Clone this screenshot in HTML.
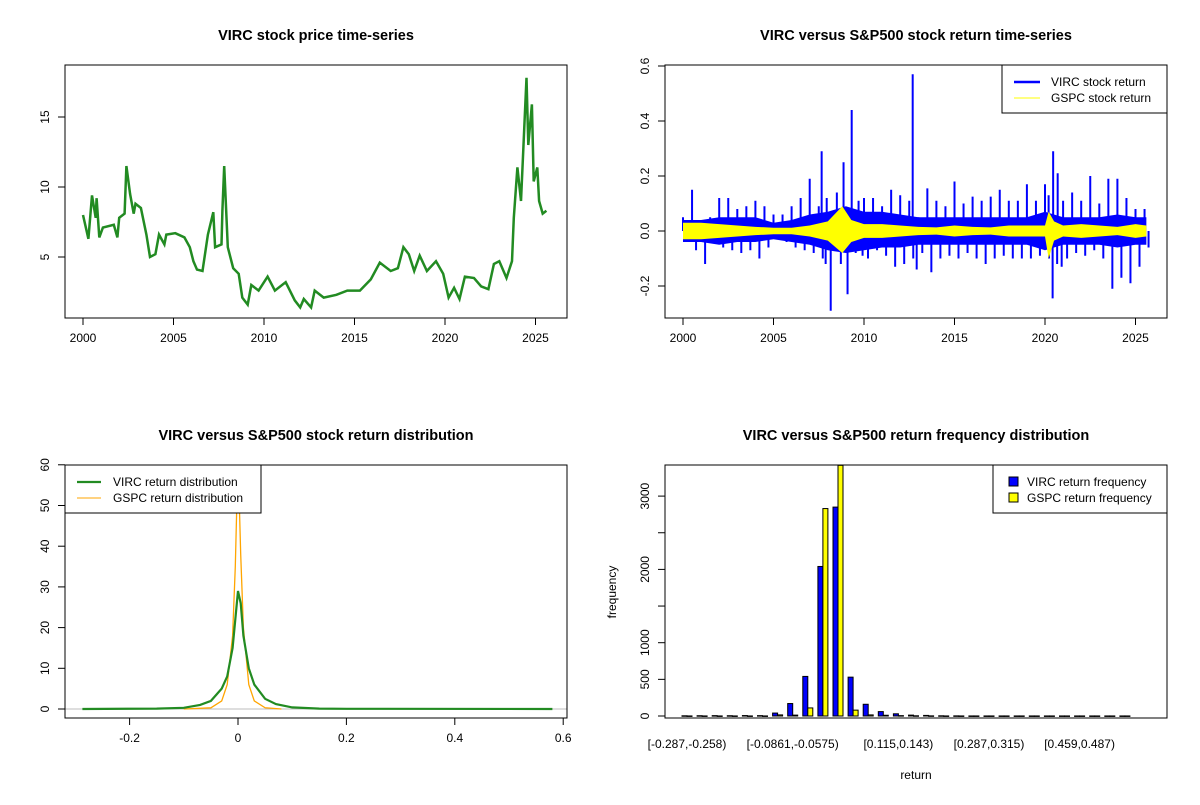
<!DOCTYPE html>
<html><head><meta charset="utf-8"><style>
body{margin:0;background:#fff}
svg{font-family:"Liberation Sans",Arial,sans-serif}
</style></head><body>
<svg id="c" width="1200" height="800" viewBox="0 0 1200 800" xmlns="http://www.w3.org/2000/svg"></svg>
<script>
// ---- Data ----
const priceYears=[2000.0,2000.3,2000.5,2000.7,2000.75,2000.9,2001.1,2001.7,2001.9,2002.0,2002.3,2002.4,2002.6,2002.8,2002.9,2003.2,2003.5,2003.7,2004.0,2004.2,2004.5,2004.6,2005.1,2005.6,2005.9,2006.1,2006.3,2006.6,2006.9,2007.2,2007.3,2007.65,2007.7,2007.8,2008.0,2008.3,2008.6,2008.8,2009.1,2009.3,2009.7,2010.2,2010.6,2011.2,2011.7,2012.0,2012.2,2012.6,2012.8,2013.3,2014.0,2014.6,2015.3,2015.9,2016.4,2017.0,2017.4,2017.7,2018.0,2018.3,2018.6,2019.0,2019.5,2019.9,2020.2,2020.5,2020.8,2021.1,2021.6,2022.0,2022.4,2022.7,2023.0,2023.4,2023.7,2023.8,2024.0,2024.2,2024.5,2024.6,2024.8,2024.9,2025.1,2025.2,2025.4,2025.6];
const priceVals=[8.0,6.3,9.4,7.8,9.2,6.4,7.1,7.3,6.4,7.8,8.1,11.5,9.5,8.1,8.8,8.5,6.6,5.0,5.2,6.6,5.9,6.6,6.7,6.4,5.7,4.7,4.1,4.0,6.6,8.2,5.7,5.9,8.3,11.5,5.7,4.2,3.8,2.1,1.6,3.0,2.6,3.6,2.6,3.2,1.9,1.4,2.0,1.4,2.6,2.1,2.3,2.6,2.6,3.4,4.6,4.0,4.2,5.7,5.2,4.0,5.1,4.0,4.7,3.8,2.1,2.8,2.0,3.6,3.5,2.9,2.7,4.5,4.7,3.5,4.7,7.8,11.4,9.0,17.8,13.0,15.9,10.4,11.4,9.0,8.1,8.3];

const retYears=[2000.0,2000.5,2001.0,2001.5,2002.0,2002.5,2003.0,2003.5,2004.0,2004.5,2005.0,2005.5,2006.0,2006.5,2007.0,2007.5,2007.66,2007.94,2008.5,2008.87,2009.32,2009.7,2010.0,2010.5,2011.0,2011.5,2012.0,2012.5,2012.69,2013.0,2013.5,2014.0,2014.5,2015.0,2015.5,2016.0,2016.5,2017.0,2017.5,2018.0,2018.5,2019.0,2019.5,2020.0,2020.2,2020.45,2020.7,2021.0,2021.5,2022.0,2022.5,2023.0,2023.5,2024.0,2024.5,2025.0,2025.5];
const retHigh=[0.05,0.15,0.04,0.05,0.12,0.12,0.08,0.09,0.11,0.09,0.06,0.06,0.09,0.12,0.19,0.09,0.29,0.12,0.14,0.25,0.44,0.11,0.12,0.12,0.09,0.15,0.13,0.11,0.57,0.05,0.155,0.11,0.09,0.18,0.10,0.125,0.11,0.125,0.15,0.11,0.11,0.17,0.11,0.17,0.13,0.29,0.21,0.11,0.14,0.11,0.2,0.10,0.19,0.19,0.12,0.08,0.08];
const retLow=[-0.04,-0.07,-0.12,-0.03,-0.06,-0.07,-0.08,-0.07,-0.1,-0.06,-0.03,-0.04,-0.06,-0.07,-0.08,-0.1,-0.12,-0.29,-0.12,-0.23,-0.08,-0.09,-0.1,-0.07,-0.09,-0.13,-0.12,-0.1,-0.14,-0.08,-0.15,-0.1,-0.09,-0.1,-0.08,-0.1,-0.12,-0.1,-0.09,-0.1,-0.1,-0.1,-0.09,-0.1,-0.245,-0.12,-0.13,-0.1,-0.08,-0.09,-0.07,-0.1,-0.21,-0.17,-0.19,-0.13,-0.06];
const bandYears=[2000,2001,2002,2003,2004,2005,2006,2007,2008,2009,2010,2011,2012,2013,2014,2015,2016,2017,2018,2019,2020,2021,2022,2023,2024,2025,2025.6];
const bandHi=[0.04,0.04,0.05,0.05,0.05,0.03,0.04,0.06,0.07,0.09,0.07,0.07,0.06,0.05,0.05,0.05,0.05,0.05,0.05,0.05,0.07,0.05,0.05,0.05,0.06,0.05,0.05];
const bandLo=[-0.04,-0.04,-0.05,-0.04,-0.04,-0.03,-0.04,-0.05,-0.07,-0.08,-0.07,-0.06,-0.06,-0.05,-0.05,-0.05,-0.05,-0.05,-0.05,-0.05,-0.07,-0.05,-0.05,-0.05,-0.06,-0.05,-0.05];
const gspcYears=[2000,2001,2002,2003,2004,2005,2006,2007,2008,2008.8,2009.3,2010,2011,2012,2013,2014,2015,2016,2017,2018,2019,2020,2020.2,2020.5,2021,2022,2023,2024,2025,2025.6];
const gspcHi=[0.03,0.03,0.025,0.02,0.015,0.012,0.012,0.02,0.035,0.09,0.04,0.025,0.025,0.02,0.015,0.013,0.02,0.015,0.013,0.02,0.02,0.02,0.07,0.035,0.02,0.025,0.02,0.015,0.025,0.02];
const gspcLo=[-0.03,-0.03,-0.025,-0.02,-0.015,-0.012,-0.012,-0.02,-0.035,-0.08,-0.04,-0.025,-0.025,-0.02,-0.015,-0.013,-0.02,-0.015,-0.013,-0.02,-0.02,-0.02,-0.1,-0.035,-0.02,-0.025,-0.02,-0.015,-0.025,-0.02];

const densX=[-0.287,-0.15,-0.1,-0.07,-0.05,-0.03,-0.02,-0.01,-0.005,0,0.005,0.01,0.02,0.03,0.05,0.07,0.1,0.15,0.2,0.58];
const vircDens=[0,0.1,0.3,1,2,5,8,15,22,29,26,18,10,6,2.5,1.2,0.4,0.1,0.05,0];
const gspcDensX=[-0.1,-0.05,-0.03,-0.02,-0.01,-0.005,0,0.005,0.01,0.02,0.03,0.05,0.08];
const gspcDens=[0,0.3,2,6,18,35,62,38,20,6,2,0.3,0];

const binLabels=["[-0.287,-0.258)","[-0.0861,-0.0575)","[0.115,0.143)","[0.287,0.315)","[0.459,0.487)"];
const binLabelIdx=[0,7,14,20,26];
const vircFreq=[3,4,5,4,6,5,40,170,540,2040,2850,530,160,60,30,12,8,3,2,1,1,1,1,1,1,1,1,1,1,1];
const gspcFreq=[1,1,1,1,1,1,15,12,110,2830,3420,80,15,10,5,3,2,1,1,1,1,1,1,1,1,1,1,1,1,1];

// ---- helpers ----
const svg=document.getElementById('c');
const NS='http://www.w3.org/2000/svg';
function mk(tag,attrs,parent,txt){const e=document.createElementNS(NS,tag);for(const k in attrs)e.setAttribute(k,attrs[k]);if(txt!==undefined)e.textContent=txt;(parent||svg).appendChild(e);return e;}
function title(x,y,t,name){const e=mk('text',{x:x,y:y,'text-anchor':'middle','font-size':'14.5','font-weight':'bold'},svg,t);}
function box(x0,y0,x1,y1,name){const e=mk('rect',{x:x0,y:y0,width:x1-x0,height:y1-y0,fill:'none',stroke:'#000','stroke-width':1});}
function xaxis(ticks,fx,yb,name){const g=mk('g',{});
 mk('line',{x1:fx(ticks[0]),x2:fx(ticks[ticks.length-1]),y1:yb,y2:yb,stroke:'#000'},g);
 ticks.forEach(t=>{mk('line',{x1:fx(t),x2:fx(t),y1:yb,y2:yb+7,stroke:'#000'},g);mk('text',{x:fx(t),y:yb+24,'text-anchor':'middle','font-size':'12'},g,String(t));});}
function yaxis(ticks,labels,fy,xb,name){const g=mk('g',{});
 mk('line',{x1:xb,x2:xb,y1:fy(ticks[0]),y2:fy(ticks[ticks.length-1]),stroke:'#000'},g);
 ticks.forEach((t,i)=>{mk('line',{x1:xb,x2:xb-7,y1:fy(t),y2:fy(t),stroke:'#000'},g);if(labels[i]!=='')mk('text',{x:xb-16,y:fy(t),'text-anchor':'middle','font-size':'12',transform:`rotate(-90 ${xb-16} ${fy(t)})`},g,labels[i]);});}
function poly(xs,ys,fx,fy,col,w,name){const pts=xs.map((x,i)=>fx(x).toFixed(1)+','+fy(ys[i]).toFixed(1)).join(' ');const e=mk('polyline',{points:pts,fill:'none',stroke:col,'stroke-width':w,'stroke-linejoin':'miter'});return e;}

// ---- Panel 1: price ----
const px=y=>83+(y-2000)*18.1, py=v=>327-v*14;
title(316,40,'VIRC stock price time-series','price-chart-title');
poly(priceYears,priceVals,px,py,'#228B22',2.5,'virc-price-line');
box(65,65,567,318,'price-plot-frame');
xaxis([2000,2005,2010,2015,2020,2025],px,318,'price-x-axis');
yaxis([5,10,15],['5','10','15'],py,65,'price-y-axis');

// ---- Panel 2: returns ----
const rx=y=>683+(y-2000)*18.1, ry=v=>231-v*275;
title(916,40,'VIRC versus S&P500 stock return time-series','return-chart-title');
{const g=mk('g',{});
 const up=bandYears.map((y,i)=>rx(y)+','+ry(bandHi[i])).join(' ');const dn=bandYears.map((y,i)=>rx(y)+','+ry(bandLo[i])).reverse().join(' ');
 mk('polygon',{points:up+' '+dn,fill:'#0000FF'},g);
 retYears.forEach((y,i)=>{mk('line',{x1:rx(y),x2:rx(y),y1:ry(retHigh[i]),y2:ry(0),stroke:'#0000FF','stroke-width':2},g);
  mk('line',{x1:rx(y)+4,x2:rx(y)+4,y1:ry(0),y2:ry(retLow[i]),stroke:'#0000FF','stroke-width':2},g);});}
{const up=gspcYears.map((y,i)=>rx(y)+','+ry(gspcHi[i])).join(' ');const dn=gspcYears.map((y,i)=>rx(y)+','+ry(gspcLo[i])).reverse().join(' ');
 const e=mk('polygon',{points:up+' '+dn,fill:'#FFFF00'});}
box(665,65,1167,318,'return-plot-frame');
xaxis([2000,2005,2010,2015,2020,2025],rx,318,'return-x-axis');
yaxis([-0.2,0,0.2,0.4,0.6],['-0.2','0.0','0.2','0.4','0.6'],ry,665,'return-y-axis');
{const g=mk('g',{});
 mk('rect',{x:1002,y:65,width:165,height:48,fill:'#fff',stroke:'#000'},g);
 mk('line',{x1:1014,x2:1040,y1:82,y2:82,stroke:'#0000FF','stroke-width':2.5},g);
 mk('text',{x:1051,y:86,'font-size':'12'},g,'VIRC stock return');
 mk('line',{x1:1014,x2:1040,y1:98,y2:98,stroke:'#FFFF00','stroke-width':1},g);
 mk('text',{x:1051,y:102,'font-size':'12'},g,'GSPC stock return');}

// ---- Panel 3: density ----
const dx=v=>238+v*542, dy=v=>709-v*4.07;
title(316,440,'VIRC versus S&P500 stock return distribution','density-chart-title');
{const e=mk('line',{x1:65,x2:567,y1:709,y2:709,stroke:'#BEBEBE'});}
const cp=mk('clipPath',{id:'clip3'});mk('rect',{x:65,y:465,width:502,height:253},cp);
poly(gspcDensX,gspcDens,dx,dy,'#FFA500',1.3,'gspc-density-line').setAttribute('clip-path','url(#clip3)');
poly(densX,vircDens,dx,dy,'#228B22',2.2,'virc-density-line');
box(65,465,567,718,'density-plot-frame');
xaxis([-0.2,0,0.2,0.4,0.6],dx,718,'density-x-axis');
yaxis([0,10,20,30,40,50,60],['0','10','20','30','40','50','60'],dy,65,'density-y-axis');
{const g=mk('g',{});
 mk('rect',{x:65,y:465,width:196,height:48,fill:'#fff',stroke:'#000'},g);
 mk('line',{x1:77,x2:101,y1:482,y2:482,stroke:'#228B22','stroke-width':2.2},g);
 mk('text',{x:113,y:486,'font-size':'12'},g,'VIRC return distribution');
 mk('line',{x1:77,x2:101,y1:498,y2:498,stroke:'#FFA500','stroke-width':1},g);
 mk('text',{x:113,y:502,'font-size':'12'},g,'GSPC return distribution');}

// ---- Panel 4: histogram ----
const gx=i=>687+i*15.1, hy=v=>716-v*0.0733;
title(916,440,'VIRC versus S&P500 return frequency distribution','histogram-chart-title');
vircFreq.forEach((v,i)=>{const e=mk('rect',{x:gx(i)-5,y:hy(v),width:5,height:Math.max(0.5,716-hy(v)),fill:'#0000FF',stroke:'#000','stroke-width':1});
 
 });
gspcFreq.forEach((v,i)=>{const e=mk('rect',{x:gx(i),y:Math.max(465,hy(v)),width:5,height:Math.max(0.5,716-Math.max(465,hy(v))),fill:'#FFFF00',stroke:'#000','stroke-width':1});
 
 });
box(665,465,1167,718,'histogram-plot-frame');
yaxis([0,500,1000,1500,2000,2500,3000],['0','500','1000','','2000','','3000'],hy,665,'histogram-y-axis');
binLabels.forEach((t,k)=>{const e=mk('text',{x:gx(binLabelIdx[k]),y:748,'text-anchor':'middle','font-size':'12'},svg,t);
 
 });
{const e=mk('text',{x:916,y:779,'text-anchor':'middle','font-size':'12'},svg,'return');}
{const e=mk('text',{x:616,y:592,'text-anchor':'middle','font-size':'12',transform:'rotate(-90 616 592)'},svg,'frequency');}
{const g=mk('g',{});
 mk('rect',{x:993,y:465,width:174,height:48,fill:'#fff',stroke:'#000'},g);
 mk('rect',{x:1009,y:477,width:9,height:9,fill:'#0000FF',stroke:'#000'},g);
 mk('text',{x:1027,y:486,'font-size':'12'},g,'VIRC return frequency');
 mk('rect',{x:1009,y:493,width:9,height:9,fill:'#FFFF00',stroke:'#000'},g);
 mk('text',{x:1027,y:502,'font-size':'12'},g,'GSPC return frequency');}
</script>
</body></html>
